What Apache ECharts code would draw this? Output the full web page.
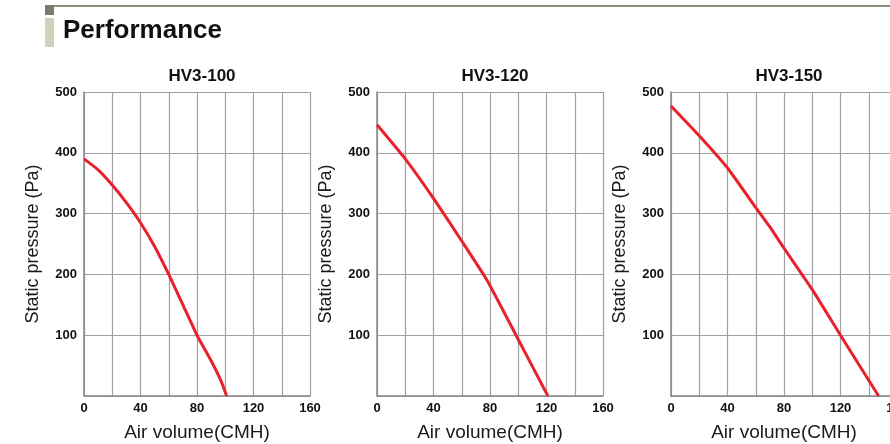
<!DOCTYPE html>
<html>
<head>
<meta charset="utf-8">
<script src="https://cdn.jsdelivr.net/npm/echarts@6/dist/echarts.min.js"></script>
<style>
  html, body { margin: 0; padding: 0; background: #fff; }
  #chart { width: 890px; height: 444px; }
</style>
</head>
<body>
<div id="chart"></div>
<script>
// models and their fan curves: [air volume (CMH), static pressure (Pa)]
const models = ['HV3-100', 'HV3-120', 'HV3-150'];
const curve100 = [[0, 390], [10, 372], [20, 347], [30, 318], [40, 285], [50, 246], [60, 200], [70, 150], [80, 100], [90, 58], [97, 25], [101, 0]];
const curve120 = [[0, 446], [20, 390], [40, 325], [60, 255], [78, 190], [100, 93], [121, 0]];
const curve150 = [[0, 477], [20, 428], [40, 375], [60, 310], [70, 278], [80, 243], [100, 175], [120, 100], [147, 0]];
const curves = [curve100, curve120, curve150];

const xMax = 160;
const yMax = 500;
const gridLefts = [84, 377, 671];
const gridWidth = 226;

const font = 'Liberation Sans, Arial, Helvetica, sans-serif';
const gridColor = '#a0a0a0';

const chart = echarts.init(document.getElementById('chart'));

const grids = gridLefts.map(l => ({ left: l, top: 92, width: gridWidth, height: 304, outerBoundsMode: 'none', containLabel: false }));

const xAxes = gridLefts.map((l, i) => ({
  type: 'value', gridIndex: i, min: 0, max: xMax, interval: 20,
  name: 'Air volume(CMH)', nameLocation: 'middle', nameGap: 27,
  nameTextStyle: { fontFamily: font, fontSize: 19, color: '#1a1a1a' },
  axisLine: { lineStyle: { color: '#888', width: 1.5 } },
  axisTick: { show: false },
  axisLabel: {
    margin: 6, fontFamily: font, fontSize: 13, fontWeight: 'bold', color: '#111',
    formatter: v => (v % 40 === 0 ? String(v) : '')
  },
  splitLine: { show: true, lineStyle: { color: gridColor, width: 1.2 } }
}));

const yAxes = gridLefts.map((l, i) => ({
  type: 'value', gridIndex: i, min: 0, max: yMax, interval: 100,
  name: 'Static pressure (Pa)', nameLocation: 'middle', nameGap: 42,
  nameTextStyle: { fontFamily: font, fontSize: 18, color: '#1a1a1a' },
  axisLine: { show: true, lineStyle: { color: '#888', width: 1.5 } },
  axisTick: { show: false },
  axisLabel: { showMinLabel: false, margin: 7, fontFamily: font, fontSize: 13, fontWeight: 'bold', color: '#111' },
  splitLine: { show: true, lineStyle: { color: gridColor, width: 1.2 } }
}));

const series = curves.map((c, i) => ({
  type: 'line', xAxisIndex: i, yAxisIndex: i, data: c,
  smooth: 0.15, showSymbol: false,
  lineStyle: { color: '#e8212b', width: 3 }
}));

const titles = [{
  text: 'Performance', left: 58, top: 13,
  textStyle: { fontFamily: font, fontSize: 26, fontWeight: 'bold', color: '#111' }
}].concat(models.map((m, i) => ({
  text: m, left: gridLefts[i] + gridWidth / 2, top: 63, textAlign: 'center',
  textStyle: { fontFamily: font, fontSize: 17, fontWeight: 'bold', color: '#111' }
})));

chart.setOption({
  animation: false,
  title: titles,
  grid: grids,
  xAxis: xAxes,
  yAxis: yAxes,
  series: series,
  graphic: [
    { type: 'rect', shape: { x: 54, y: 5, width: 836, height: 2 }, style: { fill: '#8e8e80' } },
    { type: 'rect', shape: { x: 45, y: 5, width: 9, height: 10 }, style: { fill: '#7a7b6c' } },
    { type: 'rect', shape: { x: 45, y: 18, width: 9, height: 29 }, style: { fill: '#cfd3bb' } }
  ]
});

window.addEventListener('resize', () => chart.resize());
</script>
</body>
</html>
